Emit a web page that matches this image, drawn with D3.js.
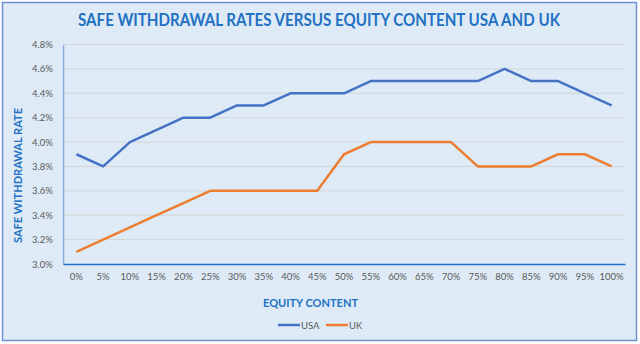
<!DOCTYPE html>
<html>
<head>
<meta charset="utf-8">
<script src="https://cdn.jsdelivr.net/npm/d3@7"></script>
<style>
  body { margin: 0; background: #fff; }
  svg { display: block; font-family: Lato, "Open Sans", sans-serif; }
</style>
</head>
<body>
<div class="chart"></div>
<script>
// data
const categories = ["0%", "5%", "10%", "15%", "20%", "25%", "30%", "35%", "40%", "45%", "50%",
  "55%", "60%", "65%", "70%", "75%", "80%", "85%", "90%", "95%", "100%"];
const usa = [3.9, 3.8, 4.0, 4.1, 4.2, 4.2, 4.3, 4.3, 4.4, 4.4, 4.4, 4.5, 4.5, 4.5, 4.5, 4.5, 4.6, 4.5, 4.5, 4.4, 4.3];
const uk = [3.1, 3.2, 3.3, 3.4, 3.5, 3.6, 3.6, 3.6, 3.6, 3.6, 3.9, 4.0, 4.0, 4.0, 4.0, 3.8, 3.8, 3.8, 3.9, 3.9, 3.8];
const seriesNames = ["USA", "UK"];
const yTicks = [3.0, 3.2, 3.4, 3.6, 3.8, 4.0, 4.2, 4.4, 4.6, 4.8];

const w = 640;
const h = 344;
const colors = ["#4472C4", "#ED7D31"];
const titleBlue = "#2271C3";

const svg = d3.select(".chart")
  .append("svg")
  .attr("width", w)
  .attr("height", h);

// chart frame
svg.append("rect")
  .attr("x", 2.5)
  .attr("y", 2.5)
  .attr("width", 634)
  .attr("height", 338)
  .attr("fill", "#DEEBF7")
  .attr("stroke", "#6E8FD2")
  .attr("stroke-width", 1.5);

// scales
const xScale = d3.scaleBand()
  .domain(categories)
  .range([63, 625]);

const yScale = d3.scaleLinear()
  .domain([3.0, 4.8])
  .range([264, 44.5]);

const cx = d => xScale(d) + xScale.bandwidth() / 2;

// gridlines
svg.append("g")
  .selectAll("line")
  .data(yTicks.slice(1))
  .enter()
  .append("line")
  .attr("x1", 63)
  .attr("x2", 625)
  .attr("y1", d => yScale(d))
  .attr("y2", d => yScale(d))
  .attr("stroke", "#D5D5D5")
  .attr("stroke-width", 1);

// AXIS
const yAxis = d3.axisLeft(yScale)
  .tickValues(yTicks)
  .tickSize(0)
  .tickPadding(10)
  .tickFormat(d => d.toFixed(1) + "%");

const yG = svg.append("g")
  .attr("transform", "translate(63,0)")
  .call(yAxis);
yG.select(".domain").attr("stroke", "#8FAADC").attr("stroke-width", 1.5);
yG.selectAll("text")
  .attr("fill", "#595959")
  .style("font-size", "9.5px")
  .style("font-family", "Lato, sans-serif");

const xAxis = d3.axisBottom(xScale)
  .tickSize(0)
  .tickPadding(9);

const xG = svg.append("g")
  .attr("transform", "translate(0,264)")
  .call(xAxis);
xG.select(".domain").attr("stroke", "#1A6FC4").attr("stroke-width", 1.5);
xG.selectAll("text")
  .attr("fill", "#595959")
  .style("font-size", "9.5px")
  .style("font-family", "Lato, sans-serif");

// lines
const line = d3.line()
  .x((d, i) => cx(categories[i]))
  .y(d => yScale(d));

[usa, uk].forEach((s, k) => {
  svg.append("path")
    .datum(s)
    .attr("fill", "none")
    .attr("stroke", colors[k])
    .attr("stroke-width", 2.5)
    .attr("stroke-linejoin", "round")
    .attr("d", line);
});

// titles (Calibri-like narrow widths)
svg.append("text")
  .attr("x", 319)
  .attr("y", 26)
  .attr("text-anchor", "middle")
  .attr("fill", titleBlue)
  .attr("textLength", 482)
  .attr("lengthAdjust", "spacingAndGlyphs")
  .style("font-size", "16.5px")
  .style("font-weight", "bold")
  .text("SAFE WITHDRAWAL RATES VERSUS EQUITY CONTENT USA AND UK");

svg.append("text")
  .attr("transform", "translate(22,175.5) rotate(-90)")
  .attr("text-anchor", "middle")
  .attr("fill", titleBlue)
  .attr("textLength", 135)
  .attr("lengthAdjust", "spacingAndGlyphs")
  .style("font-size", "11.5px")
  .style("font-weight", "bold")
  .text("SAFE WITHDRAWAL RATE");

svg.append("text")
  .attr("x", 310.5)
  .attr("y", 307)
  .attr("text-anchor", "middle")
  .attr("fill", titleBlue)
  .attr("textLength", 95)
  .attr("lengthAdjust", "spacingAndGlyphs")
  .style("font-size", "12px")
  .style("font-weight", "bold")
  .text("EQUITY CONTENT");

// legend
const legendX = [278, 326];
const legend = svg.append("g")
  .selectAll("g")
  .data(seriesNames)
  .enter()
  .append("g")
  .attr("transform", (d, i) => "translate(" + legendX[i] + ",325)");

legend.append("line")
  .attr("x1", 0)
  .attr("x2", 22)
  .attr("stroke", (d, i) => colors[i])
  .attr("stroke-width", 2.5);

legend.append("text")
  .attr("x", 23)
  .attr("y", 3.5)
  .attr("fill", "#595959")
  .style("font-size", "9.5px")
  .text(d => d);
</script>
</body>
</html>
